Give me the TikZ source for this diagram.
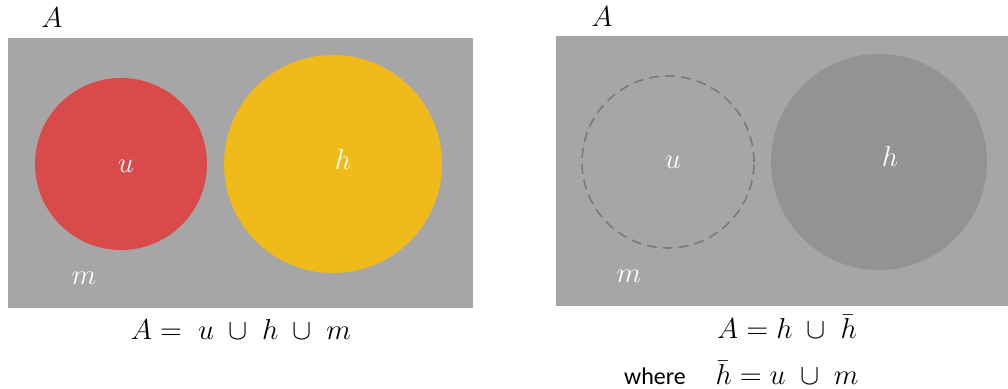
\documentclass[tikz,border=0pt]{standalone}
\usepackage{amsmath, amssymb}
\usepackage{fontspec}
\newfontfamily\wherefont{Carlito}
\usepackage{tikz}
\usetikzlibrary{positioning}

\definecolor{setgray}{HTML}{A6A6A6}
\definecolor{setred}{HTML}{D94A4A}
\definecolor{setyellow}{HTML}{F0BA1A}
\definecolor{setdark}{HTML}{939393}
\definecolor{dashgray}{HTML}{7A7A7A}

\begin{document}
\begin{tikzpicture}[x=0.5pt, y=-0.5pt,
        universe/.style={rectangle, fill=setgray, minimum height=135pt, inner sep=0pt},
        region/.style={circle, inner sep=0pt},
        inlabel/.style={text=white, font=\fontsize{15}{17}\selectfont},
        eqlabel/.style={font=\fontsize{15}{17}\selectfont, inner sep=0pt}
    ]
        \useasboundingbox (0,0) rectangle (1008,389);

        % left picture
        \node[universe, minimum width=232.5pt] (leftset) at (240.5,173) {};
        \node[region, fill=setred, minimum size=86pt] (ucirc) at (121,164) {};
        \node[region, fill=setyellow, minimum size=109pt] (hcirc) at (333,164) {};
        \node[inlabel] (ulabel) at (126,166) {$u$};
        \node[inlabel] (hlabel) at (343,160) {$h$};
        \node[inlabel] (mlabel) at (84,278) {$m$};
        \node[eqlabel] (leftname) at (52,18) {$A$};
        \node[eqlabel] (lefteq) at (241,330) {$A=\;u\;\cup\;h\;\cup\;m$};

        % right picture
        \node[universe, minimum width=226pt] (rightset) at (782,171) {};
        \node[region, draw=dashgray, dashed, thick, dash pattern=on 5pt off 3pt, minimum size=86pt] (ucircb) at (668,162) {};
        \node[region, fill=setdark, minimum size=108pt] (hcircb) at (879,162) {};
        \node[inlabel] (ulabelb) at (673,162) {$u$};
        \node[inlabel] (hlabelb) at (890,157) {$h$};
        \node[inlabel] (mlabelb) at (629,276) {$m$};
        \node[eqlabel] (rightname) at (602,17) {$A$};
        \node[eqlabel] (righteq) at (787,327) {$A=h\;\cup\;\bar{h}$};
        \node[eqlabel] (compeq) at (787,373) {$\bar{h}=u\;\cup\;m$};
        \node[font=\wherefont\fontsize{12}{14}\selectfont, inner sep=0pt] (where) at (655,376) {where};
    \end{tikzpicture}
\end{document}
